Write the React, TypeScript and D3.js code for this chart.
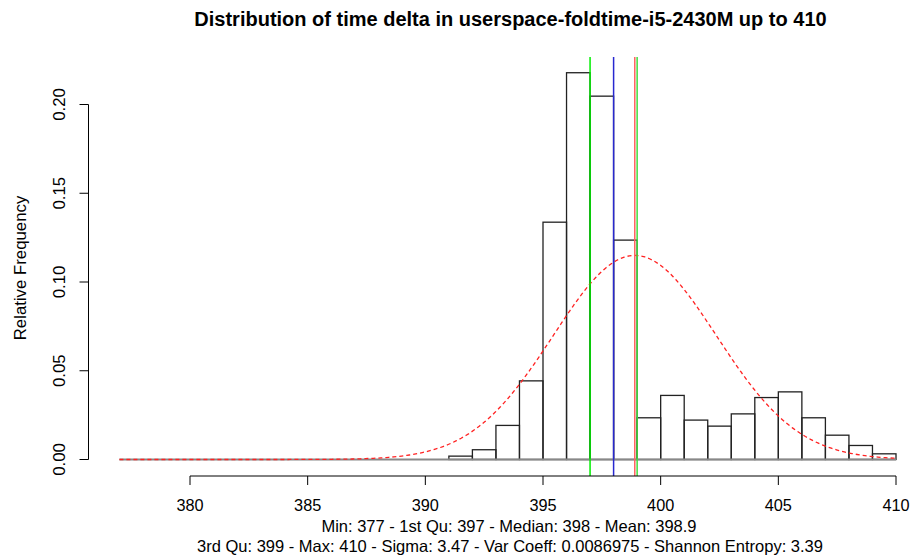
import React from "react";
import * as d3 from "d3";

const binStarts = [377, 378, 379, 380, 381, 382, 383, 384, 385, 386, 387, 388, 389, 390, 391, 392, 393, 394, 395, 396, 397, 398, 399, 400, 401, 402, 403, 404, 405, 406, 407, 408, 409];
const relFreq = [0, 0, 0, 0, 0, 0, 0, 0, 0, 0, 0, 0, 0, 0, 0.0019, 0.0055, 0.0192, 0.0443, 0.1337, 0.2179, 0.2047, 0.1236, 0.0235, 0.0361, 0.0222, 0.0188, 0.0257, 0.0349, 0.0381, 0.0235, 0.0137, 0.0079, 0.0032];
const xTicks = [380, 385, 390, 395, 400, 405, 410];
const yTicks = [0, 0.05, 0.1, 0.15, 0.2];
const yTickLabels = ["0.00", "0.05", "0.10", "0.15", "0.20"];
const statMin = 377;
const statMax = 410;
const statQ1 = 397;
const statMedian = 398;
const statMean = 398.9;
const statQ3 = 399;
const statSigma = 3.47;
const title = "Distribution of time delta in userspace-foldtime-i5-2430M up to 410";
const subLine1 = "Min: 377 - 1st Qu: 397 - Median: 398 - Mean: 398.9";
const subLine2 = "3rd Qu: 399 - Max: 410 - Sigma: 3.47 - Var Coeff: 0.0086975 - Shannon Entropy: 3.39";
const yLabel = "Relative Frequency";

const W = 912;
const H = 558;
const FONT = "'Liberation Sans', Arial, Helvetica, sans-serif";

export default function App() {
  const x = d3.scaleLinear().domain([380, 410]).range([190, 896]);
  const y = d3.scaleLinear().domain([0, 0.2]).range([459.5, 104.5]);
  const plotTop = 57;
  const plotBottom = 476;
  const axisY = 476;
  const yAxisX = 88.5;

  const curvePts: [number, number][] = [];
  const n = 300;
  for (let i = 0; i <= n; i++) {
    const v = statMin + ((statMax - statMin) * i) / n;
    const d = Math.exp(-0.5 * ((v - statMean) / statSigma) ** 2) / (statSigma * Math.sqrt(2 * Math.PI));
    curvePts.push([x(v), y(d)]);
  }
  const line = d3.line();

  const vlines = [
    { v: statQ1, c: "#00ee00" },
    { v: statMedian, c: "#2828d0" },
    { v: statMean, c: "#ff6060" },
    { v: statQ3, c: "#40dd40" },
  ];

  return (
    <svg width={W} height={H} style={{ position: "absolute", left: 0, top: 0, background: "#fff" }} fontFamily={FONT}>
      <rect x={0} y={0} width={W} height={H} fill="#fff" />
      <text x={510.5} y={25.5} textAnchor="middle" fontWeight="bold" fontSize={20}>{title}</text>
      {/* bars */}
      {binStarts.map((b, i) => (
        <rect key={i} x={x(b)} y={y(relFreq[i])} width={x(b + 1) - x(b)} height={y(0) - y(relFreq[i])}
          fill="none" stroke={relFreq[i] > 0 ? "#222" : "#888"} strokeWidth={1.3} />
      ))}
      <line x1={x(statMin)} x2={x(statMax)} y1={y(0)} y2={y(0)} stroke="#888" strokeWidth={2} />
      {/* normal curve */}
      <path d={line(curvePts) || ""} fill="none" stroke="#ff2222" strokeWidth={1.3} strokeDasharray="4,3" />
      {/* vertical lines */}
      {vlines.map((l, i) => (
        <line key={i} x1={x(l.v)} x2={x(l.v)} y1={plotTop} y2={plotBottom} stroke={l.c} strokeWidth={1.5} />
      ))}
      {/* x axis */}
      <line x1={x(380)} x2={x(410)} y1={axisY} y2={axisY} stroke="#000" strokeWidth={1} />
      {xTicks.map((t) => (
        <g key={t}>
          <line x1={x(t)} x2={x(t)} y1={axisY} y2={axisY + 9} stroke="#000" />
          <text x={x(t)} y={511} textAnchor="middle" fontSize={16.3}>{t}</text>
        </g>
      ))}
      {/* y axis */}
      <line x1={yAxisX} x2={yAxisX} y1={y(0)} y2={y(0.2)} stroke="#000" />
      {yTicks.map((t, i) => (
        <g key={t}>
          <line x1={yAxisX - 9} x2={yAxisX} y1={y(t)} y2={y(t)} stroke="#000" />
          <text transform={`translate(${65},${y(t)}) rotate(-90)`} textAnchor="middle" fontSize={16.8}>{yTickLabels[i]}</text>
        </g>
      ))}
      <text transform={`translate(26,${268}) rotate(-90)`} textAnchor="middle" fontSize={16.8}>{yLabel}</text>
      <text x={509} y={532} textAnchor="middle" fontSize={16.5}>{subLine1}</text>
      <text x={510} y={552} textAnchor="middle" fontSize={16.5}>{subLine2}</text>
    </svg>
  );
}
